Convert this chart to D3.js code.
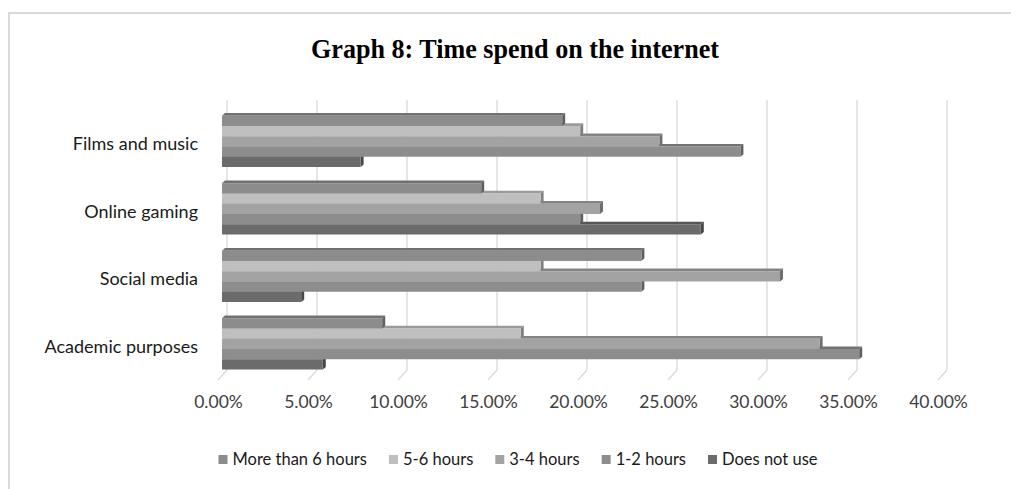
<!DOCTYPE html>
<html>
<head>
<meta charset="utf-8">
<script src="https://cdn.jsdelivr.net/npm/d3@7"></script>
<style>
  html, body { margin: 0; padding: 0; background: #fff; }
  svg { display: block; }
</style>
</head>
<body>
<svg id="chart" width="1011" height="489"></svg>
<script>
// ---- data ----
const categories = ["Films and music", "Online gaming", "Social media", "Academic purposes"];
const seriesNames = ["More than 6 hours", "5-6 hours", "3-4 hours", "1-2 hours", "Does not use"];
const moreThan6 = [0.189, 0.144, 0.233, 0.089];
const hours5to6 = [0.199, 0.177, 0.177, 0.166];
const hours3to4 = [0.243, 0.210, 0.310, 0.332];
const hours1to2 = [0.288, 0.199, 0.233, 0.354];
const doesNotUse = [0.077, 0.266, 0.044, 0.056];
const tickValues = [0, 0.05, 0.10, 0.15, 0.20, 0.25, 0.30, 0.35, 0.40];
const seriesColors = ["#8c8c8c", "#bfbfbf", "#a3a3a3", "#8d8d8d", "#6b6b6b"];

const seriesValues = [moreThan6, hours5to6, hours3to4, hours1to2, doesNotUse];

const svg = d3.select("#chart");

// outer border
svg.append("rect").attr("x", 9).attr("y", 13).attr("width", 1030).attr("height", 500)
  .attr("fill", "none").attr("stroke", "#d9d9d9").attr("stroke-width", 2);

// title
svg.append("text")
  .attr("x", 515).attr("y", 58)
  .attr("text-anchor", "middle")
  .attr("font-family", "'Liberation Serif', 'Times New Roman', serif")
  .attr("font-weight", "bold")
  .attr("font-size", 28)
  .attr("textLength", 408)
  .attr("lengthAdjust", "spacingAndGlyphs")
  .attr("fill", "#000")
  .text("Graph 8: Time spend on the internet");

// scales
const x = d3.scaleLinear().domain([0, 0.40]).range([222, 942]);
const y = d3.scaleBand().domain(categories).range([107.6, 377.6]).paddingInner(0.24).paddingOuter(0.12);
const ys = d3.scaleBand().domain(seriesNames).range([0, y.bandwidth()]).padding(0);

const backDx = 5, frontDx = -4, floorFront = 380, floorBack = 370, wallTop = 100;

// gridlines (back wall + floor)
const grid = svg.append("g").attr("stroke", "#d9d9d9").attr("stroke-width", 1.3).attr("fill", "none");
tickValues.forEach(v => {
  const xv = x(v);
  grid.append("line").attr("x1", xv + backDx).attr("x2", xv + backDx).attr("y1", wallTop).attr("y2", floorBack);
  grid.append("line").attr("x1", xv + backDx).attr("x2", xv + frontDx).attr("y1", floorBack).attr("y2", floorFront);
});

// x axis labels
const xAxis = d3.axisBottom(x).tickValues(tickValues).tickSize(0).tickPadding(0)
  .tickFormat(d => (d * 100).toFixed(2) + "%");
const gx = svg.append("g").attr("transform", `translate(${frontDx},${396})`).call(xAxis);
gx.select(".domain").remove();
gx.selectAll("text")
  .attr("font-family", "Lato, 'Open Sans', sans-serif")
  .attr("font-size", 17.5)
  .attr("fill", "#404040");

// category labels
const yAxis = d3.axisLeft(y).tickSize(0).tickPadding(0);
const gy = svg.append("g").attr("transform", "translate(198,0)").call(yAxis);
gy.select(".domain").remove();
gy.selectAll("text")
  .attr("font-family", "Lato, 'Open Sans', sans-serif")
  .attr("font-size", 18)
  .attr("fill", "#1a1a1a")
  .attr("dy", "0.5em")
  .attr("text-anchor", "end");

// 3D bars
const d = 3, dy3 = 2.6;
const bars = svg.append("g");
categories.forEach((cat, ci) => {
  // draw bottom series first so upper bars cover lower top faces
  for (let si = seriesNames.length - 1; si >= 0; si--) {
    const v = seriesValues[si][ci];
    const x0 = x(0), x1 = x(v);
    const y0 = y(cat) + ys(seriesNames[si]);
    const h = ys.bandwidth();
    const c = d3.color(seriesColors[si]);
    const g = bars.append("g");
    // top face
    g.append("polygon")
      .attr("points", [[x0, y0], [x1, y0], [x1 + d, y0 - dy3], [x0 + d, y0 - dy3]].map(p => p.join(",")).join(" "))
      .attr("fill", c.darker(0.6).formatHex());
    // side face
    g.append("polygon")
      .attr("points", [[x1, y0], [x1 + d, y0 - dy3], [x1 + d, y0 + h - dy3], [x1, y0 + h]].map(p => p.join(",")).join(" "))
      .attr("fill", c.darker(1.1).formatHex());
    // front face
    g.append("rect").attr("x", x0).attr("y", y0).attr("width", x1 - x0).attr("height", h)
      .attr("fill", c.formatHex());
  }
});

// legend
const legend = svg.append("g").attr("font-family", "Lato, 'Open Sans', sans-serif").attr("font-size", 16.5);
let lx = 0;
seriesNames.forEach((name, i) => {
  const it = legend.append("g");
  it.append("rect").attr("x", 0).attr("y", -10).attr("width", 9).attr("height", 9).attr("fill", seriesColors[i]);
  const t = it.append("text").attr("x", 14).attr("y", 0).attr("fill", "#1a1a1a").text(name);
  const w = t.node().getComputedTextLength();
  it.attr("transform", `translate(${lx},0)`);
  lx += 14 + w + 22;
});
const totalW = lx - 22;
legend.attr("transform", `translate(${518 - totalW / 2},465)`);
</script>
</body>
</html>
